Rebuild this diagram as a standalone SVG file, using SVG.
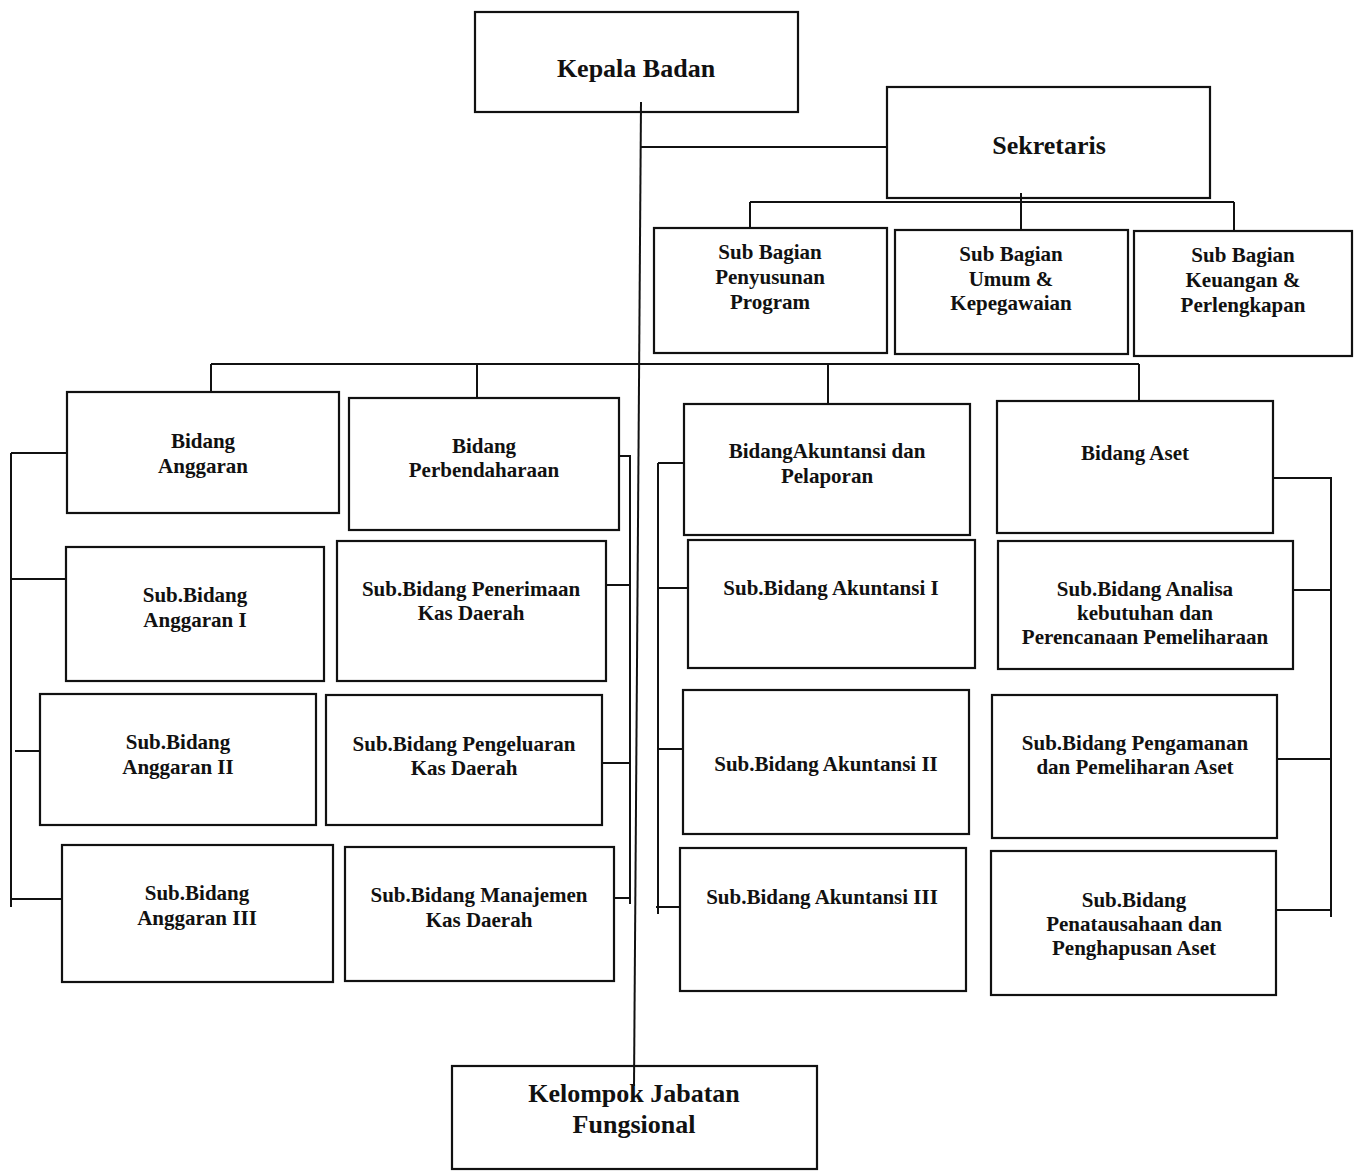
<svg xmlns="http://www.w3.org/2000/svg" width="1358" height="1171" viewBox="0 0 1358 1171">
<style>
.box{fill:none;stroke:#111;stroke-width:2.2}
.ln{fill:none;stroke:#111;stroke-width:2}
text{font-family:"Liberation Serif","Times New Roman",serif;font-weight:bold;fill:#111;text-anchor:middle}
.t{font-size:21px}
.big{font-size:26px}
</style>
<rect width="1358" height="1171" fill="#fff"/>
<g id="connectors">
<path class="ln" d="M641 102 L634 1086"/>
<path class="ln" d="M641 147 H887"/>
<path class="ln" d="M1021 193 V230 M750 202 H1234 M750 202 V228 M1234 202 V231"/>
<path class="ln" d="M211 364 H1139 M211 364 V392 M477 364 V398 M828 364 V404 M1139 364 V401"/>
<path class="ln" d="M11 453 V907 M11 453 H67 M11 579 H66 M15 751 H40 M11 899 H62"/>
<path class="ln" d="M619 456 H630 V904 M606 585 H630 M602 763 H630 M614 898 H630"/>
<path class="ln" d="M658 463 V914 M658 463 H684 M658 588 H688 M658 749 H683 M656 907 H680"/>
<path class="ln" d="M1273 478 H1331 V917 M1293 590 H1331 M1277 759 H1331 M1276 910 H1331"/>
</g>
<g id="kepala"><rect class="box" x="475" y="12" width="323" height="100"/><text class="big" x="636" y="77">Kepala Badan</text></g>
<g id="sekretaris"><rect class="box" x="887" y="87" width="323" height="111"/><text class="big" x="1049" y="154">Sekretaris</text></g>
<g id="sb-penyusunan"><rect class="box" x="654" y="228" width="233" height="125"/><text class="t" x="770" y="259">Sub Bagian</text><text class="t" x="770" y="284">Penyusunan</text><text class="t" x="770" y="309">Program</text></g>
<g id="sb-umum"><rect class="box" x="895" y="230" width="233" height="124"/><text class="t" x="1011" y="261">Sub Bagian</text><text class="t" x="1011" y="286">Umum &amp;</text><text class="t" x="1011" y="310">Kepegawaian</text></g>
<g id="sb-keuangan"><rect class="box" x="1134" y="231" width="218" height="125"/><text class="t" x="1243" y="262">Sub Bagian</text><text class="t" x="1243" y="287">Keuangan &amp;</text><text class="t" x="1243" y="312">Perlengkapan</text></g>
<g id="bidang-anggaran"><rect class="box" x="67" y="392" width="272" height="121"/><text class="t" x="203" y="448">Bidang</text><text class="t" x="203" y="473">Anggaran</text></g>
<g id="bidang-perbendaharaan"><rect class="box" x="349" y="398" width="270" height="132"/><text class="t" x="484" y="453">Bidang</text><text class="t" x="484" y="477">Perbendaharaan</text></g>
<g id="sub-anggaran-1"><rect class="box" x="66" y="547" width="258" height="134"/><text class="t" x="195" y="602">Sub.Bidang</text><text class="t" x="195" y="627">Anggaran I</text></g>
<g id="sub-penerimaan"><rect class="box" x="337" y="541" width="269" height="140"/><text class="t" x="471" y="596">Sub.Bidang Penerimaan</text><text class="t" x="471" y="620">Kas Daerah</text></g>
<g id="sub-anggaran-2"><rect class="box" x="40" y="694" width="276" height="131"/><text class="t" x="178" y="749">Sub.Bidang</text><text class="t" x="178" y="774">Anggaran II</text></g>
<g id="sub-pengeluaran"><rect class="box" x="326" y="695" width="276" height="130"/><text class="t" x="464" y="751">Sub.Bidang Pengeluaran</text><text class="t" x="464" y="775">Kas Daerah</text></g>
<g id="sub-anggaran-3"><rect class="box" x="62" y="845" width="271" height="137"/><text class="t" x="197" y="900">Sub.Bidang</text><text class="t" x="197" y="925">Anggaran III</text></g>
<g id="sub-manajemen"><rect class="box" x="345" y="847" width="269" height="134"/><text class="t" x="479" y="902">Sub.Bidang Manajemen</text><text class="t" x="479" y="927">Kas Daerah</text></g>
<g id="bidang-akuntansi"><rect class="box" x="684" y="404" width="286" height="131"/><text class="t" x="827" y="458">BidangAkuntansi dan</text><text class="t" x="827" y="483">Pelaporan</text></g>
<g id="bidang-aset"><rect class="box" x="997" y="401" width="276" height="132"/><text class="t" x="1135" y="460">Bidang Aset</text></g>
<g id="sub-akuntansi-1"><rect class="box" x="688" y="540" width="287" height="128"/><text class="t" x="831" y="595">Sub.Bidang Akuntansi I</text></g>
<g id="sub-analisa"><rect class="box" x="998" y="541" width="295" height="128"/><text class="t" x="1145" y="596">Sub.Bidang Analisa</text><text class="t" x="1145" y="620">kebutuhan dan</text><text class="t" x="1145" y="644">Perencanaan Pemeliharaan</text></g>
<g id="sub-akuntansi-2"><rect class="box" x="683" y="690" width="286" height="144"/><text class="t" x="826" y="771">Sub.Bidang Akuntansi II</text></g>
<g id="sub-pengamanan"><rect class="box" x="992" y="695" width="285" height="143"/><text class="t" x="1135" y="750">Sub.Bidang Pengamanan</text><text class="t" x="1135" y="774">dan Pemeliharan Aset</text></g>
<g id="sub-akuntansi-3"><rect class="box" x="680" y="848" width="286" height="143"/><text class="t" x="822" y="904">Sub.Bidang Akuntansi III</text></g>
<g id="sub-penatausahaan"><rect class="box" x="991" y="851" width="285" height="144"/><text class="t" x="1134" y="907">Sub.Bidang</text><text class="t" x="1134" y="931">Penatausahaan dan</text><text class="t" x="1134" y="955">Penghapusan Aset</text></g>
<g id="kelompok"><rect class="box" x="452" y="1066" width="365" height="103"/><text class="big" x="634" y="1102">Kelompok Jabatan</text><text class="big" x="634" y="1133">Fungsional</text></g>
</svg>
